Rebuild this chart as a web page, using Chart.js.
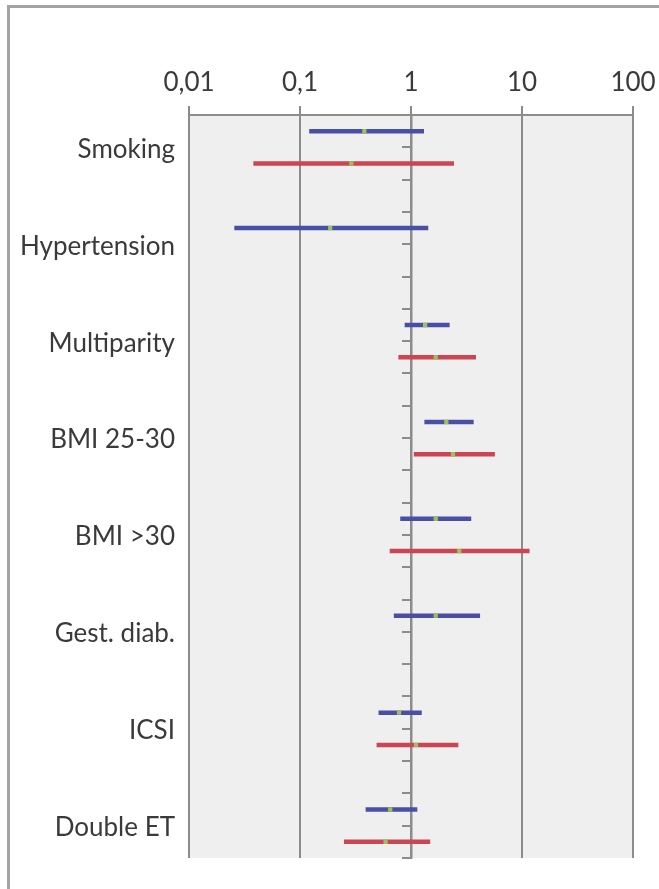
<!DOCTYPE html>
<html>
<head>
<meta charset="utf-8">
<script src="https://cdn.jsdelivr.net/npm/chart.js@4"></script>
<style>
  html, body { margin: 0; padding: 0; background: #fff; }
  #wrap { position: relative; width: 659px; height: 889px; overflow: hidden; }
  #frame { position: absolute; left: 7px; top: 5px; width: 800px; height: 1000px;
           border-left: 3px solid #a4a4a4; border-top: 3px solid #a4a4a4; }
  #chart { position: absolute; left: 0; top: 0; }
</style>
</head>
<body>
<div id="wrap">
  <div id="frame"></div>
  <canvas id="chart" width="659" height="889"></canvas>
</div>
<script>
// forest plot: odds ratio with 95% CI, two groups per risk factor
const CATEGORIES = ['Smoking', 'Hypertension', 'Multiparity', 'BMI 25-30', 'BMI >30', 'Gest. diab.', 'ICSI', 'Double ET'];

// blue group
const BLUE_OR   = [0.38, 0.187, 1.34, 2.08, 1.67, 1.67, 0.78, 0.65];
const BLUE_LOW  = [0.121, 0.0256, 0.877, 1.32, 0.80, 0.70, 0.51, 0.39];
const BLUE_HIGH = [1.31, 1.43, 2.23, 3.67, 3.49, 4.19, 1.25, 1.14];

// red group (no estimate for Hypertension and Gest. diab.)
const RED_OR    = [0.29, null, 1.67, 2.39, 2.72, null, 1.11, 0.59];
const RED_LOW   = [0.038, null, 0.77, 1.06, 0.643, null, 0.49, 0.249];
const RED_HIGH  = [2.44, null, 3.85, 5.7, 11.7, null, 2.67, 1.49];

const X_TICKS = [0.01, 0.1, 1, 10, 100];
const X_TICK_LABELS = ['0,01', '0,1', '1', '10', '100'];

const FONT = { family: 'Lato', size: 26 };
const GRID = '#8c8c8c';

// each category takes 3 rows on the value axis, top row first
const catPos = i => 22 - 3 * i;

function ciLine(lo, hi, y, color) {
  return {
    data: [{ x: lo, y }, { x: hi, y }],
    showLine: true, borderColor: color, borderWidth: 4.5, borderCapStyle: 'butt',
    pointRadius: 0, pointHoverRadius: 0
  };
}

const datasets = [];
const dots = [];
CATEGORIES.forEach((c, i) => {
  if (BLUE_OR[i] != null) dots.push({ x: BLUE_OR[i], y: catPos(i) + 0.5 });
  if (RED_OR[i] != null) dots.push({ x: RED_OR[i], y: catPos(i) - 0.5 });
});
datasets.push({ data: dots, pointStyle: 'rect', pointRadius: 3, backgroundColor: '#9bc359', borderWidth: 0, showLine: false });
CATEGORIES.forEach((c, i) => {
  datasets.push(ciLine(BLUE_LOW[i], BLUE_HIGH[i], catPos(i) + 0.5, '#4a4fa6'));
  if (RED_OR[i] != null) datasets.push(ciLine(RED_LOW[i], RED_HIGH[i], catPos(i) - 0.5, '#cc4552'));
});

const plotBg = {
  id: 'plotBg',
  beforeDraw(chart) {
    const a = chart.chartArea, ctx = chart.ctx;
    ctx.save();
    ctx.fillStyle = '#efefef';
    ctx.fillRect(a.left, a.top, a.right - a.left, a.bottom - a.top);
    ctx.restore();
  }
};

new Chart(document.getElementById('chart'), {
  type: 'scatter',
  data: { datasets },
  plugins: [plotBg],
  options: {
    responsive: false,
    devicePixelRatio: 1,
    animation: false,
    layout: { padding: { top: 0, right: 26, bottom: 31, left: 0 } },
    plugins: { legend: { display: false }, tooltip: { enabled: false } },
    scales: {
      x: {
        type: 'logarithmic', position: 'top', min: 0.01, max: 100,
        afterBuildTicks: s => { s.ticks = X_TICKS.map(v => ({ value: v })); },
        afterFit: s => { s.height = 115; s.paddingLeft = 0; s.paddingRight = 0; },
        ticks: { font: FONT, color: '#3a3a3a', padding: 8, maxRotation: 0,
                 callback: v => X_TICK_LABELS[X_TICKS.indexOf(v)] },
        grid: { color: GRID, lineWidth: 2, tickLength: 9 },
        border: { color: GRID, width: 2 }
      },
      yLabels: {
        type: 'linear', position: 'left', min: 0, max: 23,
        afterBuildTicks: s => { s.ticks = CATEGORIES.map((c, i) => ({ value: catPos(i) })); },
        afterFit: s => { s.width = 189; },
        ticks: { font: FONT, color: '#3a3a3a', padding: 6, labelOffset: 2,
                 callback: v => CATEGORIES[CATEGORIES.findIndex((c, i) => catPos(i) === v)] },
        grid: { display: false },
        border: { display: false }
      },
      y: {
        type: 'linear', position: { x: 1 }, min: 0, max: 23,
        ticks: { display: false, stepSize: 1 },
        grid: { drawOnChartArea: false, color: GRID, lineWidth: 2, tickLength: 8 },
        border: { color: GRID, width: 2.5 }
      }
    }
  }
});
</script>
</body>
</html>
